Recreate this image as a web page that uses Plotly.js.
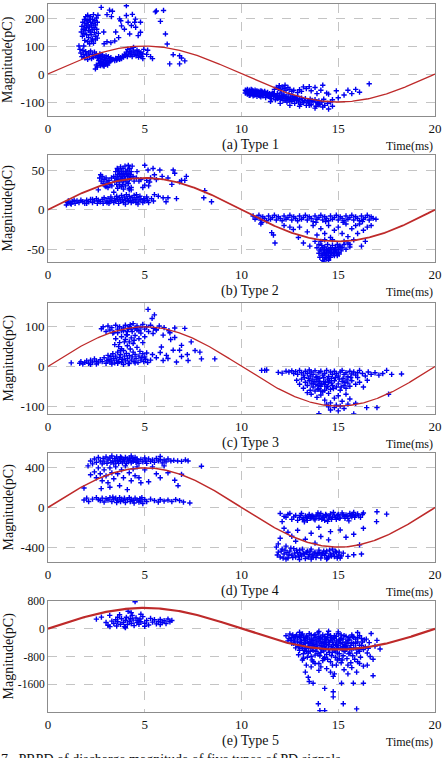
<!DOCTYPE html>
<html>
<head>
<meta charset="utf-8">
<script src="https://cdn.plot.ly/plotly-3.0.1.min.js"></script>
<style>
  html, body { margin: 0; padding: 0; background: #fff; }
  #chart { width: 446px; height: 758px; }
</style>
</head>
<body>
<div id="chart"></div>
<script>
// PRPD scatter of discharge magnitude for five PD types: [time (ms), magnitude (pC)]
const type1 = [
  [1.72,150],[1.75,170],[1.78,135],[1.8,185],[1.82,160],[1.85,145],[1.88,195],[1.9,172],[1.92,155],[1.95,205],
  [1.97,180],[2.0,165],[2.0,140],[2.03,190],[2.05,210],[2.07,175],[2.1,155],[2.1,130],[2.13,195],[2.15,168],
  [2.18,150],[2.2,185],[2.2,205],[2.23,140],[2.25,172],[2.28,158],[2.3,195],[2.3,125],[2.33,180],[2.35,212],
  [2.38,165],[2.4,148],[2.42,190],[2.45,175],[2.47,135],[2.5,200],[2.52,160],[2.55,185],[2.58,210],[2.6,145],
  [1.9,120],[2.05,115],[2.15,108],[2.25,118],[2.35,110],[2.45,122],[2.55,128],[1.85,100],
  [2.75,238],[2.88,150],[3.05,212],[3.18,228],[3.28,205],[3.33,224],[3.5,150],[3.7,197],[3.76,190],[3.8,172],
  [3.95,160],[4.05,244],[4.05,209],[4.14,185],[4.22,143],[4.31,173],[4.36,213],[4.48,185],[4.52,196],[4.53,167],
  [4.66,137],[4.78,185],[4.78,149],[5.55,222],[5.6,225],[5.81,188],[5.97,227],[6.07,143],[6.16,107],[3.05,115],
  [3.25,112],[3.45,118],[2.9,108],[3.65,130],
  [1.6,100],[1.65,88],[1.7,75],[1.75,62],[1.8,85],[1.85,70],[1.9,58],[1.95,80],[2.0,68],[2.05,52],
  [2.1,75],[2.15,62],[2.2,82],[2.25,55],[2.3,70],[2.35,60],[2.4,78],[2.45,65],[2.5,72],[2.55,58],
  [2.6,65],[2.62,48],[2.65,38],[2.68,72],[2.7,55],[2.72,30],[2.75,62],[2.78,45],[2.8,35],[2.82,68],
  [2.85,52],[2.88,40],[2.9,28],[2.92,60],[2.95,48],[2.98,35],[3.0,65],[3.02,42],[3.05,55],[3.08,32],
  [3.1,48],[3.12,62],[3.15,40],[3.18,55],[3.2,45],[3.25,58],[3.3,50],[2.55,25],[2.45,18],[2.5,32],
  [2.7,42],[2.85,30],[3.0,38],
  [3.35,52],[3.45,48],[3.5,56],[3.55,50],[3.6,54],[3.65,62],[3.7,52],[3.75,58],[3.8,55],[3.85,64],
  [3.9,60],[3.95,70],[4.0,66],[4.05,78],[4.1,62],[4.12,88],[4.15,72],[4.2,80],[4.25,68],[4.28,90],
  [4.3,75],[4.35,62],[4.4,82],[4.42,95],[4.45,70],[4.5,78],[4.55,65],[4.6,85],[4.62,72],[4.68,60],
  [4.7,80],[4.75,68],[4.8,76],[4.85,62],[4.9,72],[4.95,88],[4.9,55],
  [5.1,70],[5.15,85],[5.3,62],[5.4,55],[6.47,69],[6.8,65],[6.9,57],[7.07,47],[6.29,36],[6.8,36],
  [10.2,-58],[10.2,-68],[10.25,-62],[10.3,-55],[10.3,-72],[10.35,-65],[10.4,-58],[10.4,-76],[10.45,-62],[10.5,-68],
  [10.5,-55],[10.55,-72],[10.6,-60],[10.6,-78],[10.65,-65],[10.7,-58],[10.7,-74],[10.75,-68],[10.8,-60],[10.8,-80],
  [10.85,-70],[10.9,-62],[10.9,-76],[10.95,-68],[11.0,-60],[11.0,-82],[11.05,-72],[11.1,-65],[11.1,-78],[11.2,-70],
  [11.2,-62],[11.25,-84],[11.3,-74],[11.35,-66],[11.4,-80],[11.45,-70],[11.5,-76],[11.55,-88],[11.6,-68],[11.65,-80],
  [11.7,-74],[11.75,-92],[11.8,-82],[11.85,-70],[11.9,-86],[11.95,-76],[12.0,-90],[12.05,-68],[12.1,-82],[12.15,-95],
  [12.2,-75],[12.25,-88],[12.3,-80],[12.35,-100],[12.4,-85],[12.45,-72],[12.5,-92],[12.55,-82],[12.6,-98],[12.65,-78],
  [12.7,-88],[12.75,-105],[12.8,-85],[12.85,-95],[12.9,-80],[12.95,-100],[13.0,-90],[13.05,-108],[13.1,-86],[13.15,-96],
  [13.2,-102],[13.3,-88],[13.35,-112],[13.4,-95],[13.5,-104],[13.55,-90],[13.6,-110],[13.7,-98],[13.8,-92],[13.85,-115],
  [13.9,-102],[14.0,-96],[14.05,-108],[14.15,-100],[14.25,-90],[14.3,-112],[14.45,-105],[14.6,-100],[14.7,-92],
  [11.7,-55],[11.8,-48],[11.9,-52],[11.95,-42],[12.0,-56],[12.1,-46],[12.2,-52],[12.25,-40],[12.3,-58],[12.4,-48],
  [12.5,-55],[12.6,-62],[12.7,-58],[12.9,-66],[13.0,-56],[13.1,-62],
  [13.2,-46],[13.35,-52],[13.5,-45],[13.6,-60],[13.8,-48],[13.9,-70],[14.1,-58],[14.2,-40],[14.4,-68],[14.5,-72],
  [14.9,-60],[15.3,-75],[15.5,-58],[15.7,-70],[15.9,-55],[16.1,-65],[16.6,-35],[15.0,-85],[14.7,-115],[14.5,-125],
  [14.2,-118],[13.8,-122],[13.5,-112],[12.5,-112],[12.0,-105],[11.5,-98],[13.0,-115],[14.0,-110],
  [10.25,-60],[10.35,-70],[10.45,-75],[10.55,-58],[10.65,-75],[10.75,-62],[10.85,-64],[10.95,-78],[11.05,-62],[11.15,-72],
  [11.25,-68],[11.35,-78],[11.45,-82],[11.55,-72],[11.65,-70],[11.75,-78],[11.85,-88],[11.95,-82],[12.05,-84],[12.15,-78],
  [12.25,-94],[12.35,-86],[12.45,-92],[12.55,-90],[12.65,-90],[12.75,-84],[12.85,-88],[13.25,-96],[13.45,-100],[13.65,-94],
  [13.95,-106]
];

const type2 = [
  [2.67,40],[2.72,44],[2.75,36],[2.8,42],[2.85,33],[2.9,38],[2.95,30],[3.0,40],[3.05,35],[3.1,28],
  [3.15,37],[3.2,32],[3.28,40],[3.3,30],[3.4,42],[3.45,36],[3.5,48],[3.52,40],[3.55,32],[3.58,52],
  [3.6,44],[3.62,38],[3.65,50],[3.68,35],[3.7,46],[3.72,42],[3.75,54],[3.78,38],[3.8,48],[3.82,44],
  [3.85,40],[3.88,52],[3.9,36],[3.92,46],[3.95,42],[3.98,55],[4.0,38],[4.02,48],[4.05,44],[4.08,35],
  [4.1,50],[4.12,42],[4.15,56],[4.18,46],[4.2,38],[4.22,52],[4.25,44],[4.28,40],[4.3,48],[4.35,55],
  [4.4,42],[4.45,36],[3.7,30],[3.85,32],[4.0,30],[4.15,33],[4.3,28],[3.6,27],[4.2,25],[3.9,26],
  [4.57,40],[4.6,48],[4.7,36],
  [5.0,56],[5.17,50],[5.43,52],[5.5,44],[5.78,50],[6.47,50],[6.55,46],[6.9,37],[7.15,42],[7.07,37],
  [6.4,32],[6.8,35],[8.1,24],[8.05,15],[8.45,10],[5.0,31],[5.1,37],[5.25,35],[4.8,38],[5.3,40],
  [5.6,38],[5.9,42],[6.2,40],[4.2,27],[4.3,25],[3.8,29],[2.6,25],[3.0,29],[4.57,19],[5.2,30],
  [4.9,28],[3.4,22],
  [0.95,6],[1.0,9],[1.05,11],[1.15,8],[1.25,10],[1.35,12],[1.4,8],[1.5,11],[1.6,9],[1.7,12],
  [1.8,10],[1.9,8],[2.0,12],[2.1,10],[2.2,13],[2.3,9],[2.4,11],[2.5,14],[2.55,8],[2.6,12],
  [2.7,10],[2.8,13],[2.85,8],[2.9,15],[3.0,11],[3.05,9],[3.1,14],[3.2,10],[3.25,16],[3.3,12],
  [3.4,9],[3.45,14],[3.5,11],[3.55,17],[3.6,13],[3.65,8],[3.7,15],[3.75,11],[3.8,18],[3.85,13],
  [3.9,9],[3.95,16],[4.0,12],[4.05,19],[4.1,14],[4.15,10],[4.2,17],[4.25,12],[4.3,9],[4.35,15],
  [4.4,11],[4.45,18],[4.5,13],[4.55,9],[4.6,15],[4.7,11],[4.75,17],[4.8,13],[4.9,9],[4.95,14],
  [5.0,11],[5.1,16],[5.15,12],[5.2,9],[5.5,19],[5.7,17],[5.95,15],[6.1,10],[6.2,15],[6.64,14],
  [5.35,14],[5.45,11],[2.0,8],[2.3,13],[1.2,7],[3.15,8],[4.65,7],[4.0,7],
  [10.6,-8],[10.7,-12],[10.8,-10],[10.9,-7],[11.0,-13],[11.1,-9],[11.2,-11],[11.3,-14],[11.4,-8],[11.5,-12],
  [11.6,-10],[11.7,-7],[11.8,-13],[11.9,-9],[12.0,-11],[12.1,-14],[12.2,-8],[12.3,-12],[12.4,-10],[12.5,-7],
  [12.6,-13],[12.7,-9],[12.8,-11],[12.9,-14],[13.0,-8],[13.1,-12],[13.2,-10],[13.3,-7],[13.4,-13],[13.5,-9],
  [13.6,-11],[13.7,-15],[13.8,-8],[13.9,-12],[14.0,-10],[14.1,-7],[14.2,-13],[14.3,-9],[14.4,-11],[14.5,-14],
  [14.6,-8],[14.7,-12],[14.8,-10],[14.9,-7],[15.0,-13],[15.1,-9],[15.2,-11],[15.3,-14],[15.4,-8],[15.5,-12],
  [15.6,-10],[15.7,-7],[15.8,-13],[15.9,-9],[16.0,-11],[16.1,-14],[16.2,-8],[16.3,-12],[16.4,-10],[16.5,-7],
  [16.6,-13],[16.7,-9],[16.8,-11],[16.95,-12],[11.05,-16],[13.85,-16],[14.35,-15],[15.25,-16],[16.25,-15],
  [11.56,-29],[11.65,-32],[11.73,-42],[12.68,-25],[12.94,-35],[13.2,-42],[13.53,-46],[12.2,-20],[12.5,-22],[13.0,-22],
  [13.4,-28],[13.7,-20],[13.9,-32],[14.1,-24],[14.3,-30],[14.5,-20],[14.6,-35],[14.8,-26],[15.0,-22],[15.2,-30],
  [15.4,-18],[15.5,-34],[15.7,-24],[15.8,-38],[15.9,-20],[16.0,-30],[16.1,-18],[16.3,-26],[16.4,-40],[16.5,-22],
  [16.7,-20],[15.6,-44],[16.2,-46],[15.3,-40],[11.0,-18],
  [13.8,-40],[13.9,-48],[14.0,-44],[14.0,-55],[14.05,-60],[14.1,-50],[14.15,-45],[14.2,-58],[14.2,-64],[14.25,-52],
  [14.3,-47],[14.35,-56],[14.4,-62],[14.4,-50],[14.45,-44],[14.5,-58],[14.55,-53],[14.6,-48],[14.6,-60],[14.65,-55],
  [14.7,-45],[14.75,-52],[14.8,-58],[14.85,-48],[14.9,-54],[14.95,-44],[15.0,-50],[15.05,-56],[15.1,-46],[15.15,-52],
  [15.2,-48],[15.3,-44],[15.4,-50],[15.5,-42],[15.6,-47],[14.3,-38],[14.7,-38],[14.1,-40],[14.25,-66],[14.5,-64],
  [14.05,-52],[14.15,-56],[14.3,-54],[14.35,-60],[14.45,-52],[14.55,-60],[14.65,-50],[14.75,-56],[14.85,-52],[14.95,-58],
  [15.05,-46],[14.2,-48],[14.4,-56],[14.6,-54],[14.8,-50],[15.0,-54],[14.3,-62],[14.5,-50]
];

const type3 = [
  [1.2,9],[1.64,8],[1.7,12],[1.8,6],[1.9,10],[2.0,14],[2.1,8],[2.2,16],[2.3,11],[2.4,19],
  [2.5,13],[2.6,9],[2.7,17],[2.8,12],[2.9,22],[3.0,8],[3.05,15],[3.1,28],[3.15,18],[3.2,11],
  [3.25,25],[3.3,14],[3.35,32],[3.4,20],[3.45,9],[3.5,26],[3.55,16],[3.6,36],[3.65,12],[3.7,22],
  [3.75,30],[3.8,10],[3.85,18],[3.9,40],[3.95,26],[4.0,14],[4.05,33],[4.1,20],[4.15,8],[4.2,28],
  [4.25,44],[4.3,16],[4.35,24],[4.4,36],[4.45,12],[4.5,30],[4.55,20],[4.6,48],[4.65,10],[4.7,26],
  [4.75,38],[4.8,16],[4.85,22],[4.9,32],[4.95,12],[5.0,24],[5.05,18],[5.1,34],[5.15,10],[3.3,6],
  [3.6,8],[3.9,5],[4.2,7],[4.5,9],[2.5,6],[2.2,5],[3.8,45],[4.1,52],[4.4,58],[3.95,62],[3.65,50],
  [3.5,70],[3.6,85],[3.7,60],[3.8,75],[3.9,90],[4.0,68],[4.1,80],[4.15,95],[4.2,62],[4.3,72],
  [4.35,88],[4.45,66],[4.5,78],[4.6,92],[4.7,70],[4.8,84],[4.9,60],[5.0,75],[3.45,55],[3.75,40],[4.25,105],
  [2.76,95],[2.85,100],[3.0,88],[3.1,102],[3.2,92],[3.3,98],[3.4,86],[3.5,104],[3.6,94],[3.7,100],
  [3.8,90],[3.9,97],[4.0,104],[4.1,88],[4.2,100],[4.3,94],[4.4,108],[4.5,96],[4.6,102],[4.7,90],
  [4.8,98],[4.9,106],[5.0,94],[5.1,100],[5.2,88],[5.3,104],[5.45,96],[5.6,92],[5.75,102],[6.0,98],
  [6.25,90],[6.55,97],[6.3,85],[4.05,80],[3.35,84],
  [5.17,144],[5.5,130],[5.38,121],[7.07,96],[6.9,53],[7.4,62],[7.85,36],[7.93,19],[8.62,19],[7.24,15],
  [6.64,11],[6.47,41],[6.8,41],[5.86,49],[6.12,28],[5.95,15],[6.34,68],[6.55,73],[5.95,79],[5.6,93],
  [5.43,83],[5.4,30],[5.6,22],[5.8,35],[6.2,20],[5.3,16],[6.9,25],[7.2,30],[7.6,40],
  [11.04,-10],[11.2,-10],[11.3,-9],[11.9,-15],[12.1,-17],[12.3,-12],[12.45,-14],[12.6,-11],[12.7,-18],[12.8,-13],
  [12.9,-20],[13.0,-10],[13.1,-16],[13.2,-22],[13.3,-12],[13.4,-18],[13.5,-9],[13.55,-24],[13.6,-14],[13.7,-20],
  [13.8,-11],[13.9,-26],[14.0,-16],[14.1,-12],[14.2,-22],[14.3,-18],[14.4,-10],[14.5,-25],[14.6,-14],[14.7,-20],
  [14.8,-12],[14.9,-18],[15.0,-24],[15.1,-14],[15.2,-10],[15.3,-20],[15.4,-16],[15.5,-26],[15.6,-12],[15.7,-19],
  [15.8,-14],[15.9,-22],[16.0,-16],[16.1,-10],[16.25,-18],[16.4,-24],[16.55,-14],[16.7,-20],[16.9,-16],[17.1,-22],
  [17.5,-10],[17.76,-20],[18.27,-19],[17.3,-18],[16.0,-28],
  [12.85,-35],[13.0,-45],[13.1,-32],[13.2,-55],[13.3,-40],[13.4,-48],[13.5,-36],[13.55,-60],[13.6,-44],[13.7,-52],
  [13.75,-38],[13.8,-62],[13.85,-46],[13.9,-34],[14.0,-56],[14.05,-42],[14.1,-50],[14.2,-64],[14.25,-38],[14.3,-46],
  [14.4,-54],[14.5,-40],[14.6,-58],[14.7,-48],[14.8,-36],[14.9,-52],[15.0,-44],[15.1,-60],[15.2,-38],[15.3,-48],
  [15.4,-55],[15.5,-42],[15.6,-50],[15.7,-36],[15.9,-45],[16.1,-40],[16.3,-52],[16.5,-35],[13.95,-48],[14.15,-44],
  [14.45,-50],[14.65,-42],
  [13.6,-70],[13.9,-78],[14.1,-72],[14.3,-85],[14.5,-68],[14.6,-92],[14.8,-80],[15.0,-74],[15.2,-88],[15.4,-70],
  [15.6,-82],[14.4,-95],[14.9,-98],[15.5,-95],[13.4,-66],
  [14.0,-119],[14.5,-102],[14.6,-110],[14.8,-104],[15.0,-112],[15.1,-100],[15.3,-106],[15.8,-120],[15.9,-93],[16.47,-104],
  [17.0,-104],[17.6,-70],
  [13.25,-28],[13.45,-30],[13.65,-32],[13.85,-28],[14.05,-30],[14.25,-28],[14.45,-32],[14.65,-30],[14.85,-28],[15.05,-32],
  [15.25,-30],[15.45,-34],[15.65,-28],[13.7,-42],[14.0,-38],[14.3,-60],[14.55,-36],[14.75,-56],[15.15,-52],[15.35,-40],
  [14.1,-62],[13.95,-58],[14.35,-40]
];

const type4 = [
  [2.07,420],[2.2,470],[2.3,440],[2.4,490],[2.5,455],[2.6,505],[2.7,470],[2.8,440],[2.85,495],[2.9,460],
  [3.0,510],[3.05,445],[3.1,480],[3.2,500],[3.25,455],[3.3,520],[3.35,470],[3.4,440],[3.45,495],[3.5,460],
  [3.55,510],[3.6,475],[3.65,445],[3.7,490],[3.75,465],[3.8,500],[3.85,450],[3.9,485],[3.95,470],[4.0,505],
  [4.05,445],[4.1,490],[4.15,460],[4.2,500],[4.25,475],[4.3,450],[4.35,495],[4.4,465],[4.45,480],[4.5,505],
  [4.55,455],[4.6,490],[4.65,470],[4.7,445],[4.8,485],[4.9,460],[5.0,500],[5.05,470],[5.1,445],[5.2,490],
  [5.3,465],[5.4,480],[5.5,455],[5.6,495],[5.7,470],[5.8,485],[5.9,450],[6.0,480],[6.1,460],[6.2,490],
  [6.35,470],[6.5,475],[6.7,470],[6.9,465],[7.1,480],[7.24,470],[7.93,417],[5.8,515],[4.3,520],[3.75,510],
  [1.86,197],[2.2,330],[2.4,360],[2.5,300],[2.6,400],[2.7,340],[2.8,270],[2.9,380],[3.0,320],[3.1,250],
  [3.2,400],[3.3,350],[3.4,290],[3.5,410],[3.6,340],[3.7,220],[3.8,380],[3.9,300],[4.0,420],[4.2,350],
  [4.3,270],[4.4,390],[4.5,320],[4.6,410],[4.7,300],[4.8,250],[5.0,380],[5.2,260],[5.4,410],[5.6,340],
  [5.8,300],[6.0,420],[6.2,350],[6.55,275],[6.72,220],[6.9,335],[4.1,180],[3.2,205],[2.75,190],
  [1.86,75],[2.0,95],[2.1,60],[2.3,85],[2.5,100],[2.7,70],[2.8,95],[2.9,55],[3.0,90],[3.1,75],
  [3.2,100],[3.3,60],[3.4,85],[3.5,95],[3.55,50],[3.6,75],[3.7,100],[3.75,60],[3.8,85],[3.9,70],
  [3.95,95],[4.0,50],[4.1,80],[4.2,100],[4.25,60],[4.3,85],[4.4,70],[4.45,45],[4.5,95],[4.6,75],
  [4.7,55],[4.75,90],[4.8,65],[4.9,40],[5.0,80],[5.1,60],[5.3,85],[5.5,70],[5.7,55],[5.8,80],
  [6.0,65],[6.2,75],[6.4,60],[6.6,80],[6.8,70],[7.0,55],[7.33,46],[3.35,105],[2.6,80],[4.85,100],
  [12.0,-60],[12.2,-90],[12.4,-70],[12.6,-120],[12.8,-80],[12.9,-130],[13.0,-100],[13.1,-60],[13.2,-115],[13.3,-85],
  [13.4,-130],[13.5,-70],[13.6,-105],[13.7,-90],[13.8,-125],[13.9,-75],[14.0,-110],[14.1,-60],[14.2,-95],[14.3,-130],
  [14.4,-80],[14.5,-115],[14.6,-65],[14.7,-100],[14.8,-85],[14.9,-120],[15.0,-70],[15.1,-105],[15.2,-55],[15.3,-90],
  [15.4,-75],[15.5,-110],[15.6,-60],[15.7,-95],[15.8,-50],[15.9,-80],[16.0,-65],[16.15,-100],[16.3,-55],[13.25,-145],
  [14.45,-140],[15.55,-135],[17.0,-43],[17.5,-67],[16.98,-143],[12.5,-60],[13.95,-55],[14.75,-50],
  [12.2,-210],[12.1,-143],[12.0,-310],[11.9,-367],[12.4,-250],[12.6,-290],[12.9,-230],[13.3,-320],[13.6,-260],[13.8,-360],
  [14.1,-293],[14.5,-327],[14.6,-243],[15.1,-227],[15.4,-300],[16.3,-210],[16.1,-377],[12.8,-340],[14.0,-200],[15.8,-270],
  [11.8,-400],[11.9,-450],[12.0,-500],[12.1,-420],[12.2,-470],[12.3,-390],[12.4,-510],[12.5,-440],[12.6,-480],[12.7,-415],
  [12.8,-500],[12.9,-455],[13.0,-430],[13.1,-490],[13.2,-460],[13.3,-515],[13.4,-440],[13.5,-475],[13.6,-420],[13.7,-500],
  [13.8,-450],[13.9,-480],[14.0,-430],[14.1,-510],[14.2,-460],[14.3,-485],[14.4,-440],[14.5,-500],[14.6,-470],[14.7,-420],
  [14.8,-495],[14.9,-450],[15.0,-480],[15.1,-510],[15.26,-460],[15.5,-493],[15.8,-477],[16.2,-470],[12.35,-455],[13.25,-470],
  [13.95,-465],[14.25,-440],[12.75,-460],
  [11.85,-480],[12.05,-440],[12.15,-510],[12.25,-430],[12.45,-480],[12.55,-410],[12.65,-505],[12.85,-430],[12.95,-490],[13.05,-470],
  [13.15,-420],[13.35,-455],[13.45,-500],[13.55,-440],[13.65,-480],[13.75,-460],[13.85,-505],[14.05,-455],[14.15,-480],[14.35,-460],
  [14.45,-510],[14.55,-430],[14.65,-490],[14.75,-460],[14.85,-440],[14.95,-510],[15.05,-450],[15.15,-490],[12.3,-520],[13.0,-525],
  [13.6,-520],[14.4,-520],
  [12.3,-100],[12.7,-95],[13.05,-80],[13.15,-120],[13.35,-100],[13.45,-90],[13.55,-110],[13.65,-80],[13.75,-115],[13.85,-95],
  [14.05,-85],[14.15,-120],[14.25,-100],[14.35,-70],[14.55,-95],[14.65,-120],[14.85,-100],[14.95,-80],[15.05,-110],[15.25,-75],
  [15.35,-110],[15.45,-90],[15.65,-80],[15.75,-70],[15.85,-100],[16.05,-85],[16.25,-70]
];

const type5 = [
  [2.5,277],[2.76,336],[3.0,180],[3.1,100],[3.19,385],[3.3,220],[3.4,150],[3.5,260],[3.55,80],[3.6,200],
  [3.7,405],[3.75,130],[3.8,290],[3.9,180],[3.95,60],[4.0,240],[4.05,330],[4.1,120],[4.14,504],[4.2,210],
  [4.25,290],[4.3,150],[4.35,380],[4.4,250],[4.45,90],[4.5,780],[4.55,310],[4.6,180],[4.65,230],[4.7,130],
  [4.75,280],[4.8,200],[4.9,350],[5.0,160],[5.1,240],[5.2,110],[5.3,300],[5.4,190],[5.5,260],[5.6,140],
  [5.7,210],[5.8,270],[5.9,180],[6.0,230],[6.1,150],[6.2,280],[6.3,200],[6.4,240],[3.2,60],[4.0,30],
  [5.0,70],[4.3,460],[3.6,330],[5.8,120],[4.8,420],
  [12.3,-200],[12.4,-350],[12.5,-150],[12.6,-420],[12.7,-260],[12.8,-550],[12.85,-180],[12.9,-380],[13.0,-620],[13.05,-250],
  [13.1,-470],[13.15,-150],[13.2,-720],[13.25,-330],[13.3,-560],[13.35,-210],[13.4,-820],[13.45,-420],[13.5,-140],[13.55,-650],
  [13.6,-300],[13.65,-900],[13.7,-480],[13.75,-200],[13.8,-760],[13.85,-380],[13.9,-560],[13.95,-120],[14.0,-1000],[14.05,-280],
  [14.1,-680],[14.15,-430],[14.2,-180],[14.25,-860],[14.3,-520],[14.35,-320],[14.4,-740],[14.45,-160],[14.5,-600],[14.55,-400],
  [14.6,-950],[14.65,-250],[14.7,-680],[14.75,-460],[14.8,-200],[14.85,-820],[14.9,-350],[14.95,-560],[15.0,-140],[15.05,-720],
  [15.1,-420],[15.15,-280],[15.2,-900],[15.25,-520],[15.3,-200],[15.35,-650],[15.4,-380],[15.5,-1050],[15.55,-250],[15.6,-560],
  [15.7,-180],[15.75,-780],[15.8,-420],[15.9,-300],[16.0,-950],[16.05,-600],[16.1,-200],[16.2,-480],[16.3,-1077],[16.35,-320],
  [16.5,-700],[16.6,-400],[16.7,-138],[16.8,-880],[17.0,-336],[17.16,-583],
  [16.8,-1353],[16.3,-1570],[15.78,-1570],[15.17,-1570],[14.74,-1373],[14.3,-1718],[14.74,-1817],[14.74,-1965],[13.97,-2163],[14.05,-2360],
  [14.3,-2360],[15.26,-2163],[15.95,-2311],[13.5,-1520],[13.7,-1570],
  [12.9,-300],[13.0,-220],[13.1,-350],[13.2,-450],[13.3,-280],[13.4,-380],[13.5,-500],[13.6,-420],[13.7,-330],[13.8,-260],
  [13.9,-440],[14.0,-350],[14.1,-250],[14.2,-520],[14.3,-400],[14.4,-300],[14.5,-470],[14.6,-330],[14.7,-560],[14.8,-280],
  [14.9,-480],[15.0,-380],[15.1,-300],[15.2,-600],[15.3,-460],[15.4,-520],[15.5,-330],[15.6,-700],[15.7,-400],[15.8,-250],
  [15.9,-550],[16.0,-380],[16.1,-650],[16.2,-280],[16.4,-520],[12.7,-420],[12.6,-250],[13.0,-480],[13.25,-620],[13.45,-700],
  [13.65,-560],[13.85,-650],[14.05,-780],[14.25,-640],[14.45,-880],[14.65,-780],[14.85,-640],[15.05,-860],[15.25,-780],[15.45,-860],
  [15.65,-980],[15.85,-880],[14.1,-1100],[14.4,-1150],[14.9,-1050],[15.3,-1180],[13.8,-1000],[13.6,-1100],[15.95,-1250],[14.6,-1250],
  [13.35,-1050],[13.15,-900],[12.95,-750],[13.45,-1400],
  [13.0,-100],[14.0,-80],[15.0,-90],[16.0,-110],[14.5,-70],
  [12.45,-280],[12.55,-330],[12.65,-180],[12.75,-350],[12.8,-220],[12.95,-520],[13.05,-400],[13.1,-180],[13.15,-560],[13.2,-250],
  [13.3,-420],[13.35,-650],[13.4,-240],[13.45,-550],[13.5,-300],[13.55,-420],[13.6,-180],[13.65,-350],[13.7,-620],[13.75,-450],
  [13.8,-170],[13.85,-520],[13.9,-300],[13.95,-720],[14.0,-220],[14.05,-480],[14.1,-380],[14.15,-600],[14.2,-300],[14.25,-420],
  [14.3,-220],[14.35,-560],[14.4,-460],[14.45,-260],[14.5,-380],[14.55,-680],[14.6,-200],[14.65,-520],[14.7,-380],[14.75,-260],
  [14.8,-600],[14.85,-450],[14.9,-220],[14.95,-700],[15.0,-480],[15.05,-320],[15.1,-560],[15.15,-180],[15.2,-400],[15.25,-300],
  [15.3,-620],[15.35,-480],[15.4,-220],[15.45,-560],[15.5,-420],[15.55,-720],[15.6,-300],[15.65,-480],[15.7,-600],[15.75,-220],
  [15.8,-560],[15.9,-420],[15.95,-700],[16.0,-260],[16.1,-480],[16.15,-820],[16.25,-380],[16.3,-600],[16.45,-300],[16.55,-560],
  [16.65,-800],[16.9,-500],[13.2,-850],[13.7,-950],[14.2,-920],[14.7,-1050],[15.15,-980],[15.7,-1120],[16.1,-1000],[14.0,-1200],
  [13.3,-1250],[14.8,-1300],[15.5,-1300],[16.5,-1050],[13.6,-800],[14.3,-830],[14.95,-900]
];

// Peak of the reference supply sine for each panel (pC scale)
const sineAmplitude = [100, 40, 100, 400, 600];
const magTicks = [[200, 100, 0, -100], [50, 0, -50], [100, 0, -100], [400, 0, -400], [800, 0, -800, -1600]];
const timeTicks = [0, 5, 10, 15, 20];
const captions = ['(a) Type 1', '(b) Type 2', '(c) Type 3', '(d) Type 4', '(e) Type 5'];
const axisTitle = 'Magnitude(pC)';
const timeLabel = 'Time(ms)';
const figureCaption = '7.  PRPD of discharge magnitude of five types of PD signals';

const panels = [type1, type2, type3, type4, type5];

// Layout geometry (pixels in a 446x758 figure)
const W = 446, H = 758;
const plotLeft = 48, plotRight = 435;
const panelPx = [[4, 116], [155, 262], [303, 414], [453, 562], [601, 712]];
const yRanges = [[-150, 250], [-66, 69], [-120, 160], [-550, 550], [-2400, 800]];
const sineWidth = [1.3, 1.8, 1.3, 1.5, 2.2];
const yTickSize = [13, 13, 13, 13, 11.5];
const py = p => 1 - p / H;
const px = p => (p - plotLeft) / (plotRight - plotLeft);

const serif = 'Liberation Serif, Times New Roman, serif';
const traces = [];
const layout = {
  width: W, height: H,
  margin: { l: plotLeft, r: W - plotRight, t: 0, b: 0 },
  paper_bgcolor: '#ffffff', plot_bgcolor: '#ffffff',
  showlegend: false,
  font: { family: serif, size: 13, color: '#111111' },
  annotations: []
};

panels.forEach((pts, i) => {
  const sfx = i === 0 ? '' : String(i + 1);
  const xa = 'x' + sfx, ya = 'y' + sfx;

  // reference sine wave of one 20 ms power-frequency cycle
  const st = [], sv = [];
  for (let k = 0; k <= 400; k++) {
    const t = k * 0.05;
    st.push(t);
    sv.push(sineAmplitude[i] * Math.sin(2 * Math.PI * t / 20));
  }

  traces.push({
    type: 'scatter', mode: 'markers',
    x: pts.map(p => p[0]), y: pts.map(p => p[1]),
    xaxis: xa, yaxis: ya,
    marker: { symbol: 'cross-thin', size: 3.8, color: '#0000ff', line: { color: '#0000f0', width: 1.4 } },
    cliponaxis: true, hoverinfo: 'x+y'
  });
  traces.push({
    type: 'scatter', mode: 'lines',
    x: st, y: sv, xaxis: xa, yaxis: ya,
    line: { color: '#be2a2a', width: sineWidth[i] },
    hoverinfo: 'skip'
  });

  const [top, bottom] = panelPx[i];
  const common = {
    showline: true, mirror: true, linecolor: '#8c8c8c', linewidth: 1,
    showgrid: true, gridcolor: '#b5b5b5', griddash: 'dash', gridwidth: 0.8,
    zeroline: false, ticks: '', fixedrange: true
  };
  layout['xaxis' + sfx] = Object.assign({}, common, {
    domain: [0, 1], anchor: ya, range: [0, 20],
    tickfont: { family: serif, size: 13, color: '#111111' },
    tickmode: 'array', tickvals: timeTicks, ticktext: timeTicks.map(String)
  });
  layout['yaxis' + sfx] = Object.assign({}, common, {
    domain: [py(bottom), py(top)], anchor: xa, range: yRanges[i],
    tickfont: { family: serif, size: yTickSize[i], color: '#111111' },
    tickmode: 'array', tickvals: magTicks[i], ticktext: magTicks[i].map(String)
  });

  layout.annotations.push({
    xref: 'paper', yref: 'paper', x: px(8), y: py((top + bottom) / 2),
    text: axisTitle, textangle: -90, showarrow: false,
    xanchor: 'center', yanchor: 'middle',
    font: { family: serif, size: 14, color: '#111111' }
  });
  layout.annotations.push({
    xref: 'paper', yref: 'paper', x: px(250), y: py(bottom + 29),
    text: captions[i], showarrow: false, xanchor: 'center', yanchor: 'middle',
    font: { family: serif, size: 14, color: '#111111' }
  });
  layout.annotations.push({
    xref: 'paper', yref: 'paper', x: 1, y: py(bottom + 30),
    text: timeLabel, showarrow: false, xanchor: 'right', yanchor: 'middle',
    font: { family: serif, size: 12, color: '#111111' }
  });
});

layout.annotations.push({
  xref: 'paper', yref: 'paper', x: px(-1), y: py(750),
  text: figureCaption, showarrow: false, xanchor: 'left', yanchor: 'top',
  font: { family: serif, size: 14, color: '#111111' }
});

Plotly.newPlot('chart', traces, layout, { displayModeBar: false, staticPlot: true });
</script>
</body>
</html>
